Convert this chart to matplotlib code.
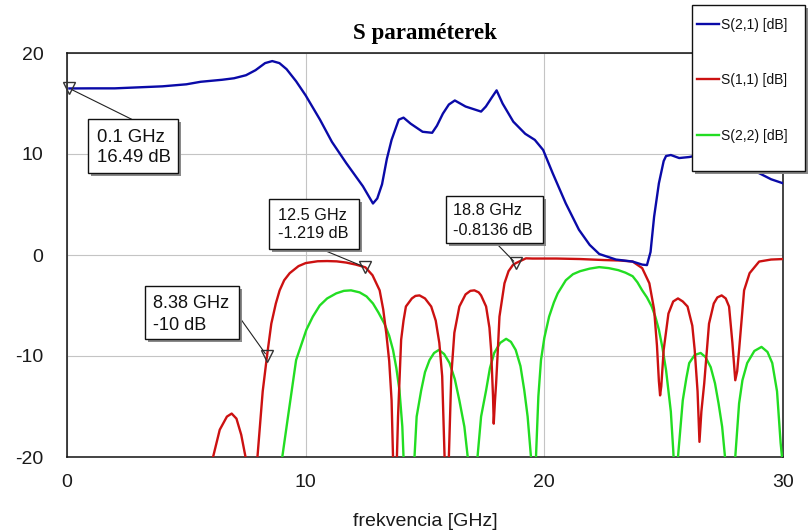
import matplotlib
matplotlib.use("Agg")
import matplotlib.pyplot as plt
from matplotlib.patches import Rectangle
from matplotlib.lines import Line2D

plt.rcParams["axes.unicode_minus"] = False

# ---- data ---------------------------------------------------------------
x_ticks = [0, 10, 20, 30]
y_ticks = [-20, -10, 0, 10, 20]
series_names = ["S(2,1) [dB]", "S(1,1) [dB]", "S(2,2) [dB]"]
series_colors = ["#0A0AA8", "#CC1111", "#22DD22"]

# S(2,1) transmission
f21 = [0.1, 1.0, 2.0, 3.0, 4.0, 5.0, 5.6, 6.5, 7.0, 7.5, 7.9, 8.3, 8.6, 8.9,
       9.2, 9.6, 10.0, 10.6, 11.1, 11.7, 12.4, 12.82, 13.0, 13.2, 13.4, 13.6,
       13.9, 14.1, 14.4, 14.9, 15.3, 15.5, 15.75, 16.0, 16.25, 16.7, 17.35,
       17.55, 17.8, 18.0, 18.25, 18.5, 18.7, 19.2, 19.6, 19.95, 20.35, 20.9,
       21.45, 21.9, 22.3, 23.0, 23.7, 24.1, 24.3, 24.45, 24.6, 24.8, 25.0,
       25.1, 25.3, 25.65, 26.07, 26.5, 27.0, 27.5, 28.0, 28.5, 29.0, 29.5, 30.0]
s21 = [16.49, 16.5, 16.5, 16.6, 16.7, 16.9, 17.15, 17.35, 17.5, 17.8, 18.3,
       19.0, 19.2, 19.0, 18.4, 17.2, 15.8, 13.4, 11.2, 9.1, 6.8, 5.1, 5.6,
       7.0, 9.5, 11.4, 13.4, 13.6, 13.0, 12.2, 12.1, 12.8, 14.0, 14.9, 15.3,
       14.7, 14.2, 14.7, 15.6, 16.3, 15.0, 14.0, 13.2, 12.0, 11.4, 10.4, 8.1,
       5.1, 2.5, 1.0, 0.1, -0.45, -0.65, -0.95, -1.0, 0.3, 3.8, 7.1, 9.3,
       9.8, 9.9, 9.6, 9.7, 9.9, 9.8, 9.5, 9.0, 8.7, 8.1, 7.5, 7.1]

# S(1,1) input reflection
f11 = [6.0, 6.12, 6.4, 6.7, 6.9, 7.1, 7.3, 7.48, 7.6, 7.75, 7.98, 8.2, 8.38,
       8.56, 8.75, 8.91, 9.1, 9.33, 9.7, 10.0, 10.5, 10.9, 11.3, 11.7, 12.1,
       12.5, 12.8, 13.1, 13.25, 13.38, 13.5, 13.6, 13.66, 13.72, 13.8, 13.87,
       14.0, 14.1, 14.2, 14.45, 14.6, 14.77, 15.0, 15.26, 15.45, 15.6, 15.72,
       15.82, 15.9, 16.0, 16.1, 16.23, 16.44, 16.7, 16.9, 17.07, 17.25, 17.35,
       17.56, 17.7, 17.77, 17.85, 17.88, 17.93, 17.98, 18.05, 18.12, 18.33,
       18.5, 18.68, 18.8, 19.23, 19.5, 20.5, 21.5, 22.5, 23.2, 23.7, 24.1,
       24.4, 24.6, 24.72, 24.8, 24.85, 24.9, 25.0, 25.2, 25.4, 25.6, 25.8,
       26.0, 26.2, 26.3, 26.42, 26.5, 26.58, 26.7, 26.9, 27.1, 27.25, 27.43,
       27.6, 27.74, 27.88, 28.0, 28.08, 28.16, 28.37, 28.6, 29.0, 29.5, 30.0]
s11 = [-22.0, -20.0, -17.3, -16.0, -15.7, -16.2, -17.8, -20.0, -22.0, -28.0,
       -20.0, -13.5, -10.0, -6.8, -4.8, -3.5, -2.5, -1.8, -1.1, -0.8, -0.62,
       -0.6, -0.63, -0.75, -0.95, -1.219, -2.0, -3.5, -5.4, -7.8, -10.5,
       -14.4, -20.0, -26.0, -22.0, -16.0, -8.4, -6.5, -5.1, -4.3, -4.05, -4.0,
       -4.3, -5.1, -6.5, -8.7, -12.0, -20.0, -25.0, -20.0, -12.0, -7.7, -5.1,
       -3.9, -3.55, -3.5, -3.7, -4.0, -5.1, -7.2, -9.4, -14.0, -16.7, -14.5,
       -12.7, -9.5, -6.1, -2.8, -1.6, -1.0, -0.8136, -0.33, -0.35, -0.35,
       -0.4, -0.5, -0.55, -0.65, -1.3, -2.8, -5.4, -9.0, -12.5, -13.9, -13.0,
       -9.4, -5.8, -4.6, -4.3, -4.6, -5.1, -7.0, -9.4, -13.5, -18.5, -15.5,
       -12.7, -6.8, -4.8, -4.2, -4.0, -4.3, -5.1, -8.7, -12.4, -11.5, -9.4,
       -3.5, -1.8, -0.65, -0.45, -0.4]

# S(2,2) output reflection
f22 = [8.8, 9.02, 9.26, 9.6, 10.03, 10.3, 10.59, 10.9, 11.28, 11.6, 11.9,
       12.26, 12.55, 12.82, 13.05, 13.3, 13.5, 13.66, 13.8, 13.93, 14.05,
       14.1, 14.3, 14.56, 14.65, 14.84, 15.0, 15.19, 15.38, 15.58, 15.8, 16.03,
       16.25, 16.44, 16.65, 16.79, 17.0, 17.2, 17.35, 17.56, 17.72, 17.9,
       18.15, 18.4, 18.6, 18.8, 19.0, 19.16, 19.3, 19.44, 19.55, 19.65, 19.75,
       19.86, 20.0, 20.2, 20.4, 20.56, 20.9, 21.2, 21.5, 21.9, 22.3, 22.7,
       23.1, 23.4, 23.7, 23.9, 24.1, 24.3, 24.5, 24.65, 24.8, 24.95, 25.1,
       25.3, 25.4, 25.5, 25.6, 25.8, 25.95, 26.07, 26.3, 26.55, 26.75, 26.97,
       27.15, 27.3, 27.45, 27.57, 27.8, 28.0, 28.16, 28.3, 28.5, 28.8, 29.1,
       29.35, 29.55, 29.75, 29.9, 30.0]
s22 = [-24.0, -20.0, -16.0, -10.4, -7.4, -6.1, -5.0, -4.3, -3.8, -3.55, -3.5,
       -3.7, -4.1, -4.8, -5.7, -6.8, -8.0, -9.4, -11.2, -13.4, -17.0, -20.0,
       -28.0, -20.0, -16.0, -13.4, -11.6, -10.4, -9.7, -9.4, -9.8, -10.7,
       -12.3, -14.4, -17.0, -20.0, -28.0, -20.0, -16.0, -13.4, -11.2, -9.7,
       -8.7, -8.3, -8.6, -9.4, -11.0, -13.4, -16.0, -20.0, -26.0, -20.0,
       -14.0, -10.4, -8.2, -6.1, -4.7, -3.8, -2.5, -1.9, -1.6, -1.35, -1.2,
       -1.3, -1.5, -1.75, -2.1, -2.7, -3.5, -4.2, -5.1, -6.1, -7.4, -9.2,
       -11.4, -15.5, -19.3, -24.0, -20.0, -14.4, -12.2, -10.7, -9.9, -9.7,
       -10.1, -11.1, -12.7, -14.7, -17.0, -20.0, -28.0, -20.0, -14.7, -12.4,
       -10.7, -9.5, -9.1, -9.6, -10.7, -13.5, -18.6, -21.0]

# marker readouts: frequency (GHz) and value (dB)
marker_freq = [0.1, 12.5, 18.8, 8.38]
marker_val = [16.49, -1.219, -0.8136, -10.0]

# ---- figure ---------------------------------------------------------------
W, H = 808, 532
fig = plt.figure(figsize=(W / 100, H / 100), dpi=100)
fig.patch.set_facecolor("white")


def fx(px):
    return px / W


def fy(py):
    return 1 - py / H


SANS = "Liberation Sans"
ax = fig.add_axes([fx(67), fy(457), fx(783) - fx(67), fy(53) - fy(457)])
ax.plot(f22, s22, color=series_colors[2], lw=1.7, zorder=3, solid_joinstyle="round")
ax.plot(f11, s11, color=series_colors[1], lw=1.7, zorder=4, solid_joinstyle="round")
ax.plot(f21, s21, color=series_colors[0], lw=1.7, zorder=5, solid_joinstyle="round")
ax.set_xlim(0, 30)
ax.set_ylim(-20, 20)
ax.set_xticks(x_ticks)
ax.set_yticks(y_ticks)
ax.grid(True, color="#c4c4c4", lw=0.8, zorder=0)
ax.tick_params(length=0, labelsize=14, colors="#1a1a1a")
ax.tick_params(axis="x", pad=12)
ax.tick_params(axis="y", pad=17)
for lab in ax.get_xticklabels() + ax.get_yticklabels():
    lab.set_fontfamily(SANS)
for sp in ax.spines.values():
    sp.set_linewidth(1.1)
    sp.set_color("#111111")

ax.set_xlabel("frekvencia [GHz]", fontsize=14, fontfamily=SANS, color="#1a1a1a")
ax.xaxis.set_label_coords(0.5, -(521 - 457) / 404)
ax.xaxis.label.set_va("center")

ax.set_title("S paraméterek", fontfamily="Liberation Serif", fontweight="bold",
             fontsize=16.5, y=1 + (53 - 39) / 404, va="baseline", pad=0)

# ---- marker readouts --------------------------------------------------------
ax.plot(marker_freq, marker_val, linestyle="none", marker="v", markersize=8,
        markerfacecolor="none", markeredgecolor="#333333", markeredgewidth=1.0,
        zorder=6, clip_on=False)

boxes = [  # x0, y0, x1, y1 (pixels), leader start, text x, baselines, font size
    ((88, 119, 178, 173), (131.7, 119.3), 97, (142, 162), 13.3),
    ((269, 199, 359, 249), (321, 249), 278, (220, 238), 11.7),
    ((446, 196, 543, 243), (496, 243), 453, (215, 235), 11.7),
    ((145, 286, 239, 339), (240, 318), 153, (308, 330), 13.1),
]


def draw_box(x0, y0, x1, y1, z=10, shadow=3):
    sh = Rectangle((fx(x0 + shadow), fy(y1 + shadow)), fx(x1) - fx(x0),
                   fy(y0) - fy(y1), transform=fig.transFigure,
                   facecolor="#8a8a8a", edgecolor="none", zorder=z)
    bx = Rectangle((fx(x0), fy(y1)), fx(x1) - fx(x0), fy(y0) - fy(y1),
                   transform=fig.transFigure, facecolor="white",
                   edgecolor="#111111", lw=1.0, zorder=z + 0.5)
    fig.add_artist(sh)
    fig.add_artist(bx)


for (freq, val), (rect, lead, tx, bls, fs) in zip(zip(marker_freq, marker_val), boxes):
    ax.annotate("", xy=(freq, val), xycoords="data",
                xytext=(lead[0], H - lead[1]), textcoords="figure pixels",
                arrowprops=dict(arrowstyle="-", color="#222222", lw=0.8,
                                shrinkA=0, shrinkB=2),
                annotation_clip=False, zorder=7)
    draw_box(*rect)
    fig.text(fx(tx), fy(bls[0]), f"{freq:g} GHz", fontsize=fs, fontfamily=SANS,
             ha="left", va="baseline", color="#111111", zorder=12)
    fig.text(fx(tx), fy(bls[1]), f"{val:g} dB", fontsize=fs, fontfamily=SANS,
             ha="left", va="baseline", color="#111111", zorder=12)

# ---- legend -----------------------------------------------------------------
draw_box(692, 5, 805, 171, z=10)
for name, col, ly in zip(series_names, series_colors, [24, 79, 135]):
    fig.add_artist(Line2D([fx(697), fx(719)], [fy(ly), fy(ly)],
                          transform=fig.transFigure, color=col, lw=1.7, zorder=12))
    fig.text(fx(721), fy(ly + 5), name, fontsize=10, fontfamily=SANS,
             ha="left", va="baseline", color="#111111", zorder=12)

fig.savefig("out.png", dpi=100)
